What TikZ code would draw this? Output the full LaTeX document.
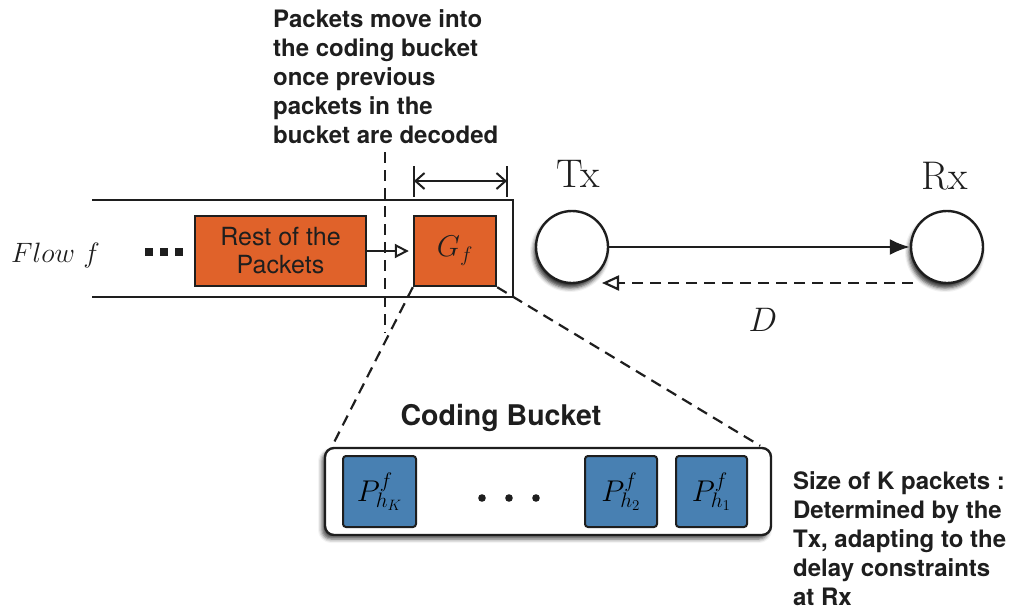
\RequirePackage{fix-cm}
\documentclass[tikz,border=0pt]{standalone}
\usepackage{fontspec}
\newfontfamily\heros{TeX Gyre Heros}
\usetikzlibrary{arrows.meta,shadows.blur,calc}
\definecolor{pktorange}{RGB}{224,98,42}
\definecolor{pktblue}{RGB}{72,128,178}
\definecolor{ink}{RGB}{30,30,30}

\begin{document}
\begin{tikzpicture}[x=1pt,y=-1pt,line width=2.2pt,draw=ink,
  queuebox/.style={draw=ink,fill=pktorange,inner sep=0pt,line width=2.4pt},
  pktbox/.style={draw=ink,fill=pktblue,rounded corners=3pt,inner sep=0pt,
    line width=2pt,minimum height=71,font=\fontsize{30}{34}\selectfont},
  station/.style={circle,draw=ink,fill=white,minimum size=72,inner sep=0pt,
    line width=2.4pt,blur shadow={shadow xshift=-2pt,shadow yshift=-5pt,
    shadow blur radius=4pt,shadow opacity=80}},
  bucketbox/.style={draw=ink,fill=white,rounded corners=9pt,line width=2.4pt,
    minimum width=446,minimum height=87,inner sep=0pt,
    blur shadow={shadow xshift=-3pt,shadow yshift=-4pt,shadow blur radius=4pt,
    shadow opacity=70}},
  note/.style={inner sep=0pt,align=left,text=ink,
    font=\heros\bfseries\fontsize{24}{29}\selectfont},
  dashline/.style={dashed,dash pattern=on 11pt off 7pt,line width=2.2pt},
  bigtx/.style={inner sep=0pt,text=ink,font=\fontsize{40}{44}\selectfont}]

\useasboundingbox (0,0) rectangle (1018,611);

% explanatory text at the top
\node[note,anchor=north west] (movenote) at (272,9)
  {Packets move into\\the coding bucket\\once previous\\packets in the\\bucket are decoded};

% the flow pipe
\draw[line width=2.4pt] (92,200) -- (513,200) -- (513,297) -- (92,297);

% flow label and queued packets
\node[anchor=base west,inner sep=0pt,text=ink,font=\fontsize{28}{32}\selectfont]
  (flow) at (10,262) {$Flow\ f$};
\foreach \cx/\nm in {148.5/q1,163.5/q2,178.5/q3}
  \fill[ink] (\cx-4,248) rectangle (\cx+4,256);

\node[queuebox,minimum width=171,minimum height=70,align=center,text=ink,
  font=\heros\fontsize{25}{28}\selectfont] (rest) at (280.5,251)
  {Rest of the\\Packets};
\node[queuebox,minimum width=82,minimum height=70,text=ink,
  font=\fontsize{30}{34}\selectfont] (gf) at (455,251) {$G_f$};

\draw[-{Triangle[open,length=14pt,width=14pt]},line width=2pt]
  (rest.east) -- ($(gf.west)+(-4,0)$);

% boundary of the coding bucket
\coordinate (cuttop) at (385,152);
\coordinate (cutbot) at (385,333);
\draw[dashline] (cuttop) -- (cutbot);

% width of the coding bucket
\coordinate (wl) at (414,181);
\coordinate (wr) at (507,181);
\draw[line width=2pt] ($(wl)+(0,-15)$) -- ($(wl)+(0,16)$);
\draw[line width=2pt] ($(wr)+(0,-15)$) -- ($(wr)+(0,16)$);
\draw[{Straight Barb[length=9pt,width=16pt]}-{Straight Barb[length=9pt,width=16pt]},
  line width=2pt] (wl) -- (wr);

% transmitter and receiver
\node[station] (tx) at (572,247) {};
\node[station] (rx) at (947,247) {};
\node[bigtx,anchor=base] (txl) at (578,187) {Tx};
\node[bigtx,anchor=base] (rxl) at (945,189) {Rx};

\draw[-{Latex[length=20pt,width=16pt]},line width=2.2pt] (tx.east) -- (rx.west);
\coordinate (fbstart) at ($(rx.center)+(-34,36)$);
\coordinate (fbend) at ($(tx.center)+(30,36)$);
\draw[dashline,-{Triangle[open,length=17pt,width=15pt]}] (fbstart) -- (fbend);
\node[inner sep=0pt,anchor=base,text=ink,font=\fontsize{34}{38}\selectfont]
  (dl) at (763,331) {$D$};

% the coding bucket
\node[bucketbox] (bucket) at (548,491.5) {};
\node[note,anchor=base,font=\heros\bfseries\fontsize{28.5}{32}\selectfont]
  (bucketl) at (501,425) {Coding Bucket};
\draw[dashline] (gf.south west) -- ($(bucket.north west)+(8,0)$);
\draw[dashline] (gf.south east) -- ($(bucket.north east)+(-12,-1)$);

\node[pktbox,minimum width=73] (pk) at (379.5,491.5) {$P^f_{h_K}$};
\node[pktbox,minimum width=72] (p2) at (621,491.5) {$P^f_{h_2}$};
\node[pktbox,minimum width=71] (p1) at (711.5,491.5) {$P^f_{h_1}$};
\foreach \cx in {482,509,536}
  \fill[ink] (\cx,498) circle (3.8);

% note on the bucket size
\node[note,anchor=north west] (sizenote) at (792,471)
  {Size of K packets :\\Determined by the\\Tx, adapting to the\\delay constraints\\at Rx};
\end{tikzpicture}
\end{document}
